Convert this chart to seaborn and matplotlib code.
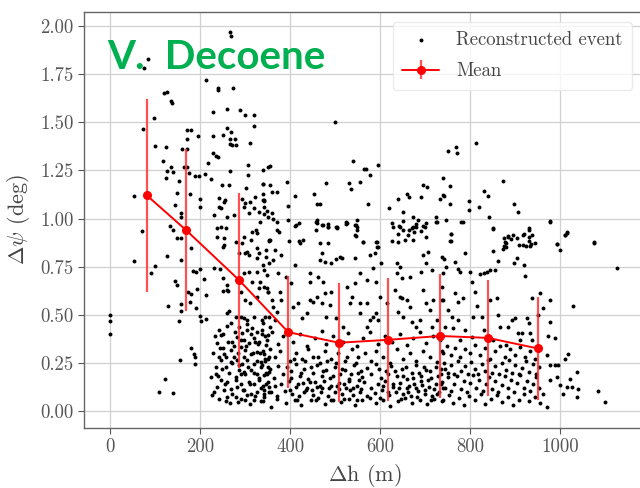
import matplotlib
matplotlib.use("Agg")
import matplotlib.pyplot as plt
import seaborn as sns
import pandas as pd

# ---------------- data ----------------
mean_x = [82, 169, 287, 396, 509, 618, 733, 840, 951]
mean_y = [1.12, 0.94, 0.68, 0.41, 0.355, 0.37, 0.39, 0.38, 0.325]
mean_err = [0.50, 0.42, 0.455, 0.29, 0.31, 0.32, 0.32, 0.30, 0.27]

x_ticks = [0, 200, 400, 600, 800, 1000]
y_ticks = [0.00, 0.25, 0.50, 0.75, 1.00, 1.25, 1.50, 1.75, 2.00]

pts_left = [(0, 0.50), (0, 0.47), (0, 0.40), (53, 0.78), (53, 1.117), (70, 0.937), (73, 1.465),
            (76, 1.78), (85, 1.83), (90, 0.715), (97, 1.52), (99, 0.755), (99, 1.375)]

pts_upper_left = [
    (266, 1.97), (268, 1.95), (290, 1.82), (120, 1.65), (126, 1.655), (137, 1.60), (136, 1.61),
    (240, 1.68), (241, 1.67), (274, 1.68), (228, 1.555), (260, 1.57), (289, 1.565), (300, 1.54),
    (321, 1.54), (321, 1.48), (259, 1.47), (268, 1.45), (267, 1.415), (278, 1.415), (267, 1.385),
    (270, 1.38), (281, 1.38), (251, 1.435), (311, 1.39), (235, 1.325), (240, 1.32), (307, 1.28),
    (267, 1.247), (307, 1.225), (341, 1.18), (351, 1.27), (249, 1.175), (265, 1.175), (302, 1.16),
    (243, 1.106), (253, 1.085), (256, 1.096), (243, 1.06), (246, 1.055), (294, 1.10), (299, 1.08),
    (310, 1.087), (322, 1.113), (342, 1.096), (320, 1.055), (331, 1.035), (342, 1.06),
    (117, 1.30), (124, 1.37), (124, 1.21), (127, 1.245), (140, 1.24), (136, 1.27), (144, 1.07),
    (148, 1.135), (153, 1.195), (157, 1.03), (157, 1.01), (159, 1.36), (165, 1.27), (170, 1.36),
    (170, 1.46), (172, 1.415), (172, 1.27), (176, 1.235), (178, 1.127), (179, 1.46), (189, 1.22),
    (196, 1.43), (197, 1.22), (201, 1.10), (201, 1.06), (210, 1.23), (213, 1.72), (218, 1.29),
    (224, 1.205), (228, 1.43), (229, 1.34), (231, 1.02), (261, 1.009), (275, 1.018), (298, 1.061),
    (309, 1.03), (342, 1.026), (352, 1.009)]

pts_mid_left = [
    (122, 0.165), (108, 0.10), (140, 0.095), (127, 0.807), (134, 0.963), (141, 0.94), (148, 0.897),
    (157, 0.897), (157, 0.787), (144, 0.677), (149, 0.653), (129, 0.545), (158, 0.556), (158, 0.521),
    (153, 0.468), (174, 0.616), (179, 0.608), (178, 0.568), (181, 0.845), (185, 0.729), (191, 0.724),
    (201, 0.736), (209, 0.684), (194, 0.632), (192, 0.533), (201, 0.494), (213, 0.48), (203, 0.468),
    (181, 0.329), (187, 0.294), (188, 0.279), (188, 0.244), (155, 0.265), (214, 0.603), (230, 0.744),
    (244, 0.736), (250, 0.625), (262, 0.625),
    (238, 0.949), (246, 0.957), (257, 0.949), (238, 0.905), (253, 0.897), (250, 0.853), (253, 0.862),
    (279, 0.879), (294, 0.871), (298, 0.905), (313, 0.888), (316, 0.931), (324, 0.94), (327, 0.923),
    (305, 0.828), (287, 0.819), (301, 0.819), (309, 0.81), (327, 0.845), (331, 0.819), (346, 0.836),
    (353, 0.888), (327, 0.793), (346, 0.802), (353, 0.767), (327, 0.724), (342, 0.732), (348, 0.706),
    (298, 0.715), (309, 0.724), (250, 0.689), (261, 0.654), (316, 0.672), (331, 0.637), (342, 0.646),
    (350, 0.62), (327, 0.594), (312, 0.559), (301, 0.576), (290, 0.62), (261, 0.628), (264, 0.521),
    (261, 0.507), (268, 0.455), (290, 0.49), (298, 0.481), (305, 0.472), (279, 0.49), (287, 0.438),
    (320, 0.49), (338, 0.472), (353, 0.49)]

pts_dense_left = [
    (242, 0.420), (246, 0.394), (238, 0.351), (250, 0.325), (242, 0.282), (253, 0.299), (246, 0.265),
    (235, 0.230), (257, 0.230), (268, 0.256), (275, 0.282), (268, 0.317), (272, 0.360), (283, 0.386),
    (294, 0.403), (305, 0.420), (316, 0.429), (327, 0.412), (338, 0.420), (350, 0.394), (298, 0.368),
    (309, 0.351), (320, 0.377), (331, 0.360), (346, 0.343), (290, 0.334), (301, 0.317), (313, 0.299),
    (327, 0.308), (342, 0.299), (353, 0.282), (283, 0.265), (294, 0.247), (305, 0.265), (320, 0.247),
    (335, 0.256), (350, 0.230), (287, 0.213), (298, 0.204), (313, 0.213), (327, 0.195), (342, 0.187),
    (353, 0.204), (224, 0.178), (235, 0.195), (246, 0.161), (261, 0.152), (279, 0.178), (290, 0.143),
    (309, 0.152), (320, 0.143), (331, 0.161), (346, 0.143), (353, 0.126), (238, 0.126), (253, 0.109),
    (268, 0.117), (283, 0.126), (298, 0.109), (313, 0.091), (327, 0.100), (342, 0.109), (227, 0.083),
    (242, 0.065), (261, 0.074), (279, 0.074), (290, 0.065), (305, 0.083), (320, 0.057), (342, 0.074),
    (228, 0.30), (233, 0.39), (240, 0.18), (244, 0.33), (248, 0.22), (252, 0.40), (255, 0.14),
    (258, 0.28), (262, 0.36), (265, 0.20), (270, 0.09), (272, 0.25), (276, 0.34), (280, 0.16),
    (284, 0.30), (287, 0.24), (292, 0.37), (295, 0.11), (297, 0.28), (300, 0.19), (303, 0.34),
    (307, 0.23), (310, 0.14), (313, 0.40), (317, 0.30), (319, 0.20), (323, 0.08), (326, 0.26),
    (329, 0.35), (332, 0.17), (336, 0.23), (339, 0.31), (341, 0.13), (344, 0.39), (348, 0.19),
    (351, 0.27), (354, 0.10), (232, 0.10), (257, 0.05), (266, 0.04), (285, 0.045), (311, 0.035),
    (336, 0.05), (292, 0.19), (278, 0.41), (259, 0.44), (305, 0.45), (322, 0.36), (345, 0.26),
    (300, 0.06)]

pts_upper_mid = [
    (339, 1.252), (355, 1.274), (341, 1.18), (356, 1.174), (359, 1.14), (372, 1.14), (394, 1.19),
    (339, 1.096), (342, 1.09), (396, 1.065), (410, 1.117), (453, 1.126), (467, 1.074), (480, 1.187),
    (500, 1.50), (539, 1.30), (565, 1.26), (569, 1.26), (578, 1.224), (595, 1.28), (530, 1.187),
    (535, 1.151), (556, 1.19), (573, 1.077), (621, 1.053), (640, 1.10), (652, 1.034), (661, 1.126),
    (664, 1.113), (690, 1.113), (696, 1.174), (705, 1.165), (724, 1.006), (725, 0.983), (734, 1.10),
    (739, 1.21), (741, 1.12), (396, 0.99), (410, 0.96), (421, 0.975), (460, 0.99), (473, 0.965),
    (484, 0.97), (504, 0.955), (524, 0.98), (544, 0.965), (549, 0.99), (627, 0.975), (642, 0.96),
    (651, 0.985), (673, 0.955), (680, 0.97), (684, 0.99), (696, 0.96), (702, 0.975), (459, 1.075),
    (458, 0.98), (458, 0.94), (340, 1.13), (348, 1.04), (360, 1.03), (362, 1.0), (371, 0.98),
    (371, 0.94), (376, 0.93), (397, 0.885), (421, 0.885), (354, 0.885)]

pts_upper_right = [
    (674, 1.006), (747, 0.99), (756, 1.169), (742, 1.118), (756, 1.078), (752, 1.349), (769, 1.373),
    (772, 1.342), (814, 1.394), (798, 1.092), (798, 1.047), (821, 1.06), (832, 1.143), (839, 1.118),
    (842, 1.01), (852, 0.944), (874, 1.195), (898, 1.075), (907, 1.034), (784, 0.983), (758, 0.92),
    (758, 0.885), (627, 0.885), (640, 0.92), (655, 0.89), (665, 0.94), (675, 0.93), (690, 0.935),
    (876, 0.9), (885, 0.91), (890, 0.895), (905, 0.9), (920, 0.92), (930, 0.905), (932, 0.885),
    (925, 0.86), (935, 0.87), (908, 0.865), (876, 0.86), (880, 0.875), (978, 0.987), (1011, 0.914),
    (1015, 0.93), (993, 0.868), (1076, 0.876), (546, 0.964), (548, 0.94), (546, 0.91), (562, 0.876),
    (593, 0.876), (593, 0.854), (524, 0.97), (504, 0.949), (484, 0.957), (930, 0.95)]

pts_mid_center = [
    (333, 0.98), (355, 0.888), (366, 0.836), (381, 0.81), (363, 0.784), (340, 0.758), (414, 0.966),
    (411, 0.758), (422, 0.871), (429, 0.888), (470, 0.966), (459, 0.975), (485, 0.957), (503, 0.957),
    (526, 0.975), (548, 0.957), (544, 0.914), (466, 0.871), (485, 0.871), (470, 0.819), (466, 0.784),
    (477, 0.776), (492, 0.767), (511, 0.802), (515, 0.793), (503, 0.788), (563, 0.88), (578, 0.81),
    (589, 0.819), (592, 0.88), (596, 0.854), (585, 0.741), (603, 0.767), (544, 0.793), (629, 0.957),
    (644, 0.957), (652, 0.94), (663, 0.914), (670, 0.949), (681, 0.957), (700, 0.957), (726, 0.983),
    (703, 0.905), (641, 0.88), (674, 0.888), (637, 0.767), (644, 0.75), (696, 0.81), (707, 0.828),
    (703, 0.767), (715, 0.732), (737, 0.802),
    (333, 0.672), (348, 0.637), (352, 0.62), (359, 0.577), (363, 0.542), (370, 0.516), (366, 0.473),
    (355, 0.438), (377, 0.62), (381, 0.577), (344, 0.49), (340, 0.456), (374, 0.715), (392, 0.698),
    (403, 0.663), (407, 0.542), (418, 0.56), (426, 0.481), (437, 0.507), (444, 0.577), (452, 0.568),
    (444, 0.715), (444, 0.672), (463, 0.698), (474, 0.672), (477, 0.611), (489, 0.551), (492, 0.62),
    (459, 0.594), (470, 0.56), (481, 0.49), (503, 0.481), (518, 0.438), (526, 0.646), (537, 0.594),
    (544, 0.663), (533, 0.56), (555, 0.56), (570, 0.56), (555, 0.507), (578, 0.473), (585, 0.49),
    (592, 0.507), (596, 0.473), (570, 0.438), (555, 0.715), (570, 0.68), (592, 0.672), (600, 0.594),
    (615, 0.56), (633, 0.629), (644, 0.594), (648, 0.585), (659, 0.577), (641, 0.516), (652, 0.49),
    (666, 0.542), (670, 0.464), (681, 0.438), (689, 0.473), (696, 0.629), (703, 0.56), (711, 0.525),
    (718, 0.577), (726, 0.473), (715, 0.438), (737, 0.577), (692, 0.724), (666, 0.698), (637, 0.715),
    (648, 0.689)]

pts_dense_center = [
    (337, 0.40), (348, 0.37), (359, 0.41), (374, 0.35), (385, 0.39), (407, 0.36), (422, 0.40),
    (437, 0.34), (455, 0.38), (470, 0.415), (481, 0.35), (496, 0.39), (518, 0.36), (529, 0.405),
    (548, 0.34), (563, 0.38), (578, 0.41), (596, 0.35), (611, 0.39), (626, 0.36), (644, 0.40),
    (659, 0.345), (674, 0.38), (689, 0.41), (703, 0.355), (718, 0.39), (733, 0.37),
    (333, 0.30), (344, 0.27), (355, 0.32), (366, 0.28), (377, 0.31), (400, 0.26), (414, 0.30),
    (426, 0.27), (440, 0.32), (451, 0.28), (466, 0.25), (477, 0.31), (492, 0.27), (507, 0.30),
    (522, 0.26), (537, 0.32), (552, 0.28), (566, 0.30), (581, 0.26), (592, 0.31), (607, 0.28),
    (622, 0.25), (637, 0.32), (652, 0.27), (666, 0.30), (681, 0.26), (696, 0.31), (711, 0.28),
    (726, 0.255), (740, 0.30),
    (337, 0.24), (346, 0.20), (355, 0.22), (364, 0.17), (374, 0.235), (385, 0.19), (403, 0.21),
    (413, 0.245), (422, 0.18), (431, 0.22), (440, 0.165), (450, 0.20), (459, 0.24), (470, 0.18),
    (480, 0.215), (489, 0.17), (500, 0.23), (511, 0.19), (522, 0.215), (532, 0.165), (542, 0.24),
    (551, 0.20), (560, 0.175), (570, 0.225), (581, 0.19), (592, 0.245), (603, 0.17), (614, 0.21),
    (625, 0.235), (637, 0.18), (648, 0.22), (659, 0.165), (670, 0.20), (681, 0.24), (692, 0.18),
    (703, 0.215), (714, 0.17), (725, 0.23), (736, 0.195), (744, 0.22),
    (335, 0.12), (342, 0.09), (350, 0.15), (357, 0.10), (366, 0.13), (372, 0.08), (381, 0.14),
    (389, 0.105), (398, 0.155), (405, 0.09), (413, 0.125), (420, 0.08), (428, 0.145), (436, 0.11),
    (444, 0.15), (452, 0.085), (460, 0.125), (468, 0.10), (476, 0.155), (484, 0.08), (492, 0.13),
    (500, 0.10), (508, 0.145), (516, 0.09), (524, 0.12), (532, 0.155), (540, 0.085), (548, 0.13),
    (556, 0.10), (564, 0.15), (572, 0.08), (580, 0.12), (588, 0.095), (596, 0.14), (604, 0.11),
    (612, 0.155), (620, 0.085), (628, 0.125), (636, 0.10), (644, 0.145), (652, 0.09), (660, 0.12),
    (668, 0.08), (676, 0.14), (684, 0.105), (692, 0.155), (700, 0.09), (708, 0.125), (716, 0.08),
    (724, 0.14), (732, 0.10), (740, 0.12),
    (340, 0.05), (358, 0.02), (370, 0.065), (392, 0.04), (410, 0.06), (425, 0.03), (447, 0.055),
    (463, 0.07), (478, 0.035), (496, 0.06), (514, 0.045), (530, 0.065), (545, 0.03), (561, 0.055),
    (577, 0.07), (590, 0.04), (607, 0.06), (622, 0.025), (640, 0.05), (655, 0.07), (671, 0.04),
    (688, 0.06), (705, 0.035), (721, 0.065), (737, 0.05),
    (394, 0.23), (402, 0.17), (409, 0.27), (417, 0.14), (424, 0.20), (433, 0.26), (438, 0.12),
    (446, 0.23), (455, 0.15), (462, 0.28), (467, 0.13), (474, 0.21), (483, 0.26), (487, 0.12),
    (495, 0.18), (503, 0.25), (509, 0.115), (515, 0.22), (520, 0.14), (527, 0.28), (535, 0.19),
    (539, 0.12), (546, 0.25), (553, 0.16), (558, 0.21), (399, 0.11), (416, 0.06), (430, 0.10),
    (449, 0.11), (458, 0.06), (472, 0.12), (490, 0.06), (505, 0.13), (519, 0.065), (534, 0.11),
    (549, 0.06), (557, 0.115),
    (598, 0.22), (606, 0.13), (617, 0.19), (629, 0.14), (633, 0.21), (642, 0.12), (650, 0.18),
    (657, 0.23), (664, 0.13), (673, 0.17), (679, 0.12), (686, 0.20), (694, 0.135), (698, 0.23),
    (707, 0.16), (712, 0.21), (720, 0.115), (729, 0.18), (735, 0.14), (601, 0.07), (618, 0.10),
    (647, 0.065), (663, 0.1), (683, 0.075), (699, 0.11), (713, 0.06), (727, 0.09)]

pts_right = [
    (781, 0.983), (757, 0.919), (756, 0.885), (789, 0.822), (742, 0.788), (767, 0.775), (747, 0.75),
    (774, 0.736), (778, 0.724), (852, 0.949), (850, 0.833), (863, 0.781), (885, 0.905), (878, 0.879),
    (896, 0.914), (898, 0.767), (904, 0.793), (917, 0.914), (919, 0.758), (930, 0.94), (937, 0.914),
    (944, 0.871), (933, 0.857), (917, 0.862), (881, 0.853), (874, 0.84), (978, 0.983), (993, 0.867),
    (1001, 0.836), (1011, 0.914), (1015, 0.926), (1076, 0.874), (1126, 0.741), (822, 0.711),
    (830, 0.715), (837, 0.724), (844, 0.732), (856, 0.732), (800, 0.724), (922, 0.701),
    (741, 0.715), (737, 0.646), (741, 0.576), (752, 0.524), (759, 0.49), (744, 0.438), (767, 0.611),
    (774, 0.568), (785, 0.585), (774, 0.472), (763, 0.429), (789, 0.42), (804, 0.672), (811, 0.62),
    (815, 0.545), (807, 0.49), (826, 0.49), (830, 0.42), (844, 0.576), (859, 0.585), (863, 0.498),
    (867, 0.438), (885, 0.438), (893, 0.472), (900, 0.481), (907, 0.403), (915, 0.403), (926, 0.481),
    (930, 0.455), (937, 0.585), (933, 0.403), (952, 0.498), (963, 0.533), (978, 0.576), (978, 0.464),
    (974, 0.389), (989, 0.377), (956, 0.611), (1028, 0.545), (852, 0.368), (881, 0.343), (911, 0.368),
    (937, 0.368), (804, 0.386), (778, 0.368),
    (970, 0.291), (978, 0.239), (989, 0.239), (996, 0.239), (1011, 0.273), (1018, 0.299),
    (993, 0.178), (1000, 0.135), (1007, 0.091), (1022, 0.169), (1037, 0.204), (1026, 0.126),
    (1041, 0.117), (970, 0.022), (963, 0.091), (978, 0.161), (1085, 0.105), (1101, 0.048),
    (1037, 0.074), (1015, 0.126)]

pts_dense_right = [
    (738, 0.31), (748, 0.34), (757, 0.29), (766, 0.33), (778, 0.28), (789, 0.32), (800, 0.30),
    (811, 0.345), (822, 0.29), (833, 0.33), (844, 0.27), (855, 0.31), (866, 0.34), (877, 0.28),
    (889, 0.32), (900, 0.29), (911, 0.335), (922, 0.28), (933, 0.31), (944, 0.27), (952, 0.33),
    (735, 0.22), (742, 0.25), (750, 0.20), (758, 0.24), (765, 0.19), (773, 0.26), (780, 0.21),
    (788, 0.235), (795, 0.195), (803, 0.255), (810, 0.22), (818, 0.19), (826, 0.245), (833, 0.21),
    (841, 0.265), (849, 0.20), (856, 0.235), (864, 0.19), (871, 0.25), (879, 0.215), (886, 0.265),
    (894, 0.20), (901, 0.24), (909, 0.19), (916, 0.225), (924, 0.26), (931, 0.205), (939, 0.245),
    (946, 0.195), (954, 0.23),
    (737, 0.15), (744, 0.12), (751, 0.175), (758, 0.105), (765, 0.14), (772, 0.18), (779, 0.115),
    (786, 0.155), (793, 0.10), (800, 0.145), (807, 0.185), (814, 0.12), (821, 0.16), (828, 0.105),
    (835, 0.14), (842, 0.175), (849, 0.115), (856, 0.155), (863, 0.10), (870, 0.135), (877, 0.18),
    (884, 0.12), (891, 0.16), (898, 0.10), (905, 0.145), (912, 0.185), (919, 0.12), (926, 0.155),
    (933, 0.105), (940, 0.14), (947, 0.175), (954, 0.12),
    (740, 0.06), (753, 0.085), (762, 0.04), (775, 0.07), (787, 0.03), (798, 0.08), (812, 0.055),
    (825, 0.09), (834, 0.035), (847, 0.065), (860, 0.085), (872, 0.045), (884, 0.075), (896, 0.03),
    (908, 0.06), (920, 0.09), (932, 0.05), (945, 0.075), (955, 0.04)]

# ---------------- styling ----------------
sns.set_theme(style="whitegrid")
plt.rcParams["font.family"] = ["cmr10", "DejaVu Sans"]
plt.rcParams["mathtext.fontset"] = "cm"
plt.rcParams["axes.unicode_minus"] = False
plt.rcParams["axes.formatter.use_mathtext"] = True

all_pts = (pts_left + pts_upper_left + pts_mid_left + pts_dense_left + pts_upper_mid +
           pts_upper_right + pts_mid_center + pts_dense_center + pts_right + pts_dense_right)
df = pd.DataFrame(all_pts, columns=["dh", "dpsi"])

fig = plt.figure(figsize=(6.4, 4.88), dpi=100)
ax = fig.add_axes([84 / 640, 60 / 488, (646 - 84) / 640, (428 - 12) / 488])

sns.scatterplot(data=df, x="dh", y="dpsi", ax=ax, s=8, color="black", linewidth=0,
                label="Reconstructed event", zorder=3)
ax.errorbar(mean_x, mean_y, yerr=mean_err, color="red", ecolor=(1, 0.2, 0.2, 0.85),
            lw=1.4, elinewidth=1.6, marker="o", markersize=5.5, capsize=0,
            label="Mean", zorder=4)

ax.set_xlim(-57.8, (646 - 110) / 0.45)
ax.set_ylim(-0.088, 2.073)
ax.set_xticks(x_ticks)
ax.set_yticks(y_ticks)
ax.set_xticklabels([str(t) for t in x_ticks])
ax.set_yticklabels([f"{t:.2f}" for t in y_ticks])

ax.set_xlabel(r"$\Delta$h (m)", fontsize=16, color="#444444", labelpad=4)
ax.set_ylabel(r"$\Delta\psi$ (deg)", fontsize=16, color="#444444", labelpad=6)
ax.tick_params(axis="both", labelsize=13.5, colors="#555555", length=4, width=0.8,
               direction="out", bottom=True, left=True)
for lab in ax.get_xticklabels() + ax.get_yticklabels():
    lab.set_color("#555555")
ax.grid(True, color="#d0d0d0", lw=0.9)
for side in ["left", "bottom", "top", "right"]:
    ax.spines[side].set_visible(True)
    ax.spines[side].set_color("#666666")
    ax.spines[side].set_linewidth(1.0)

leg = ax.legend(loc="upper right", bbox_to_anchor=(548 / 562, (428 - 22) / 416),
                borderaxespad=0, fontsize=13.5, frameon=True, framealpha=0.8,
                edgecolor="#e6e6e6", fancybox=True, handlelength=2.0, handletextpad=0.9,
                markerscale=1.0, borderpad=0.5, labelspacing=0.7)
for t in leg.get_texts():
    t.set_color("#444444")

fig.text(107 / 640, 1 - 69 / 488, "V.\u2002Decoene", color="#00b050", fontsize=29,
         fontweight="bold", family=["Lato", "DejaVu Sans"], va="baseline", ha="left")

fig.savefig("out.png", dpi=100)
